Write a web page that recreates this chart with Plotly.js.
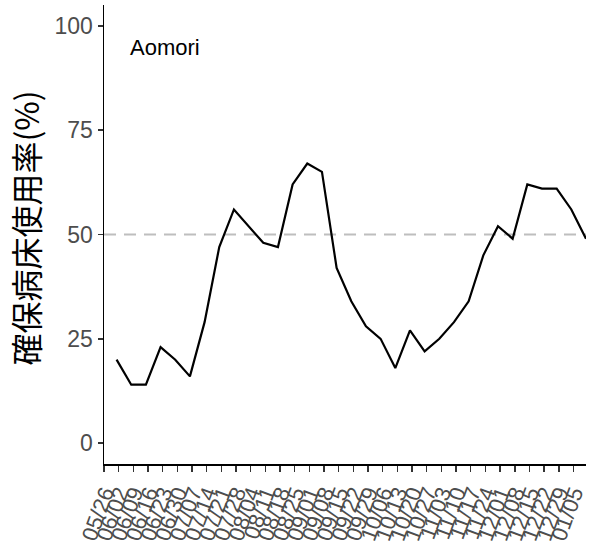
<!DOCTYPE html>
<html>
<head>
<meta charset="utf-8">
<script src="https://cdn.plot.ly/plotly-3.0.1.min.js"></script>
<style>
  html, body { margin: 0; padding: 0; background: #fff; }
  #chart { width: 596px; height: 548px; }
</style>
</head>
<body>
<div id="chart"></div>
<script>
// Data
const dates = [
  '2021-06-01','2021-06-08','2021-06-15','2021-06-22','2021-06-29',
  '2021-07-06','2021-07-13','2021-07-20','2021-07-27',
  '2021-08-03','2021-08-10','2021-08-17','2021-08-24','2021-08-31',
  '2021-09-07','2021-09-14','2021-09-21','2021-09-28',
  '2021-10-05','2021-10-12','2021-10-19','2021-10-26',
  '2021-11-02','2021-11-09','2021-11-16','2021-11-23','2021-11-30',
  '2021-12-07','2021-12-14','2021-12-21','2021-12-28',
  '2022-01-04','2022-01-11'
];
const occupancy = [20,14,14,23,20,16,29,47,56,52,48,47,62,67,65,42,34,28,25,18,27,22,25,29,34,45,52,49,62,61,61,56,49];

const tickDates = [
  '2021-05-26','2021-06-02','2021-06-09','2021-06-16','2021-06-23','2021-06-30',
  '2021-07-07','2021-07-14','2021-07-21','2021-07-28',
  '2021-08-04','2021-08-11','2021-08-18','2021-08-25',
  '2021-09-01','2021-09-08','2021-09-15','2021-09-22','2021-09-29',
  '2021-10-06','2021-10-13','2021-10-20','2021-10-27',
  '2021-11-03','2021-11-10','2021-11-17','2021-11-24',
  '2021-12-01','2021-12-08','2021-12-15','2021-12-22','2021-12-29',
  '2022-01-05'
];
const tickLabels = [
  '05/26','06/02','06/09','06/16','06/23','06/30',
  '07/07','07/14','07/21','07/28',
  '08/04','08/11','08/18','08/25',
  '09/01','09/08','09/15','09/22','09/29',
  '10/06','10/13','10/20','10/27',
  '11/03','11/10','11/17','11/24',
  '12/01','12/08','12/15','12/22','12/29',
  '01/05'
];
const yTicks = [0, 25, 50, 75, 100];
const threshold = 50;
const prefecture = 'Aomori';
const yTitle = '確保病床使用率(%)';

const trace = {
  x: dates,
  y: occupancy,
  type: 'scatter',
  mode: 'lines',
  line: { color: '#000000', width: 2.2 },
  hoverinfo: 'skip'
};

const layout = {
  width: 596,
  height: 548,
  margin: { l: 104, r: 10, t: 5, b: 84 },
  paper_bgcolor: '#ffffff',
  plot_bgcolor: '#ffffff',
  showlegend: false,
  xaxis: {
    type: 'date',
    range: ['2021-05-26', '2022-01-11'],
    tickmode: 'array',
    tickvals: tickDates,
    ticktext: tickLabels,
    tickangle: -70,
    showgrid: false,
    zeroline: false,
    showline: true,
    linecolor: '#000000',
    linewidth: 1.5,
    ticks: 'outside',
    ticklen: 6,
    tickwidth: 1.5,
    tickcolor: '#333333',
    tickfont: { family: 'Liberation Sans, Arial, sans-serif', size: 22, color: '#4D4D4D' }
  },
  yaxis: {
    range: [-5, 105],
    tickmode: 'array',
    tickvals: yTicks,
    ticktext: yTicks.map(String),
    showgrid: false,
    zeroline: false,
    showline: true,
    linecolor: '#000000',
    linewidth: 1.5,
    ticks: 'outside',
    ticklen: 5,
    tickwidth: 1.5,
    tickcolor: '#333333',
    tickfont: { family: 'Liberation Sans, Arial, sans-serif', size: 23, color: '#4D4D4D' }
  },
  shapes: [{
    type: 'line',
    xref: 'paper', x0: 0, x1: 1,
    yref: 'y', y0: threshold, y1: threshold,
    line: { color: '#BEBEBE', width: 2, dash: '12px,8px' },
    layer: 'below'
  }],
  annotations: [{
    text: prefecture,
    xref: 'paper', yref: 'paper',
    x: 0.05, y: 0.907,
    xanchor: 'left', yanchor: 'middle',
    showarrow: false,
    font: { family: 'Liberation Sans, Arial, sans-serif', size: 22, color: '#000000' }
  }, {
    text: yTitle,
    xref: 'paper', yref: 'paper',
    x: -0.164, y: 0.515,
    xanchor: 'center', yanchor: 'middle',
    textangle: -90,
    showarrow: false,
    font: { family: 'Noto Sans CJK JP, sans-serif', size: 32, color: '#000000' }
  }]
};

Plotly.newPlot('chart', [trace], layout, { staticPlot: true, displayModeBar: false });
</script>
</body>
</html>
